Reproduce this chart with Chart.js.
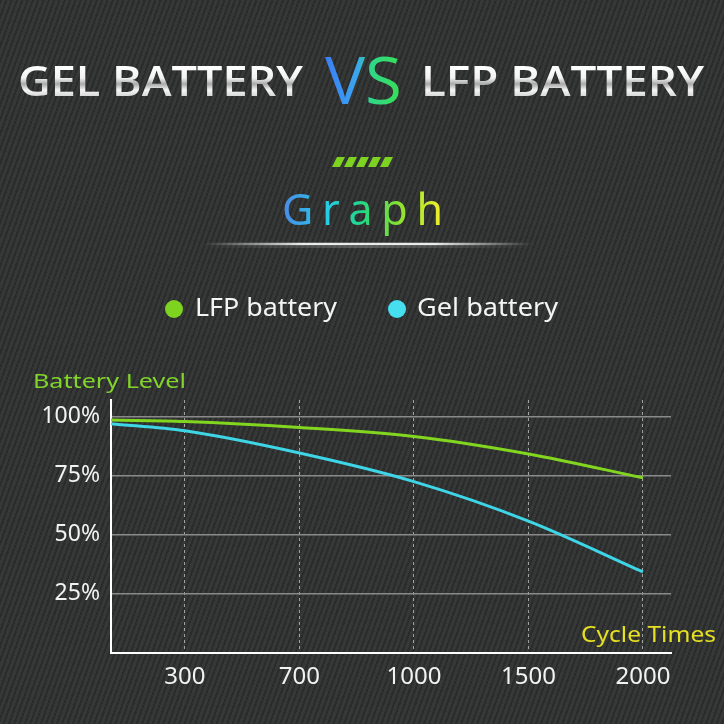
<!DOCTYPE html>
<html><head><meta charset="utf-8">
<script src="https://cdn.jsdelivr.net/npm/chart.js@4"></script>
<style>
html,body{margin:0;padding:0;width:724px;height:724px;overflow:hidden;}
body{background:#303131 repeating-linear-gradient(110deg,#2a2b2b 0px,#2a2b2b 2px,#363737 2px,#363737 5px);}
canvas{display:block}
</style></head><body>
<canvas id="c" width="724" height="724"></canvas>
<script>
// ---- data ----
const categories = ['300', '700', '1000', '1500', '2000'];
const seriesNames = ['LFP battery', 'Gel battery'];
// first value of each series = value at the origin of the x axis
const lfpValues = [98.5, 97.9, 95.4, 91.6, 84.2, 74.1];
const gelValues = [97.0, 94.0, 84.6, 72.5, 55.8, 34.3];
const yTicks = [25, 50, 75, 100];
const titleLeft = 'GEL BATTERY', titleVs = 'VS', titleRight = 'LFP BATTERY', subTitle = 'Graph';
const yTitle = 'Battery Level', xTitle = 'Cycle Times';
const seriesColors = ['#82d61f', '#3ed6e6'];
const dotColors = ['#7ed321', '#45dff0'];

const X_MIN = -0.646, X_MAX = 4.245;
function toPoints(vals) { return vals.map((v, i) => ({ x: i === 0 ? X_MIN : i - 1, y: v })); }

function fitText(ctx, text, x, y, width, font, fillFn) {
  ctx.save();
  ctx.font = font;
  const w = ctx.measureText(text).width;
  ctx.translate(x, y);
  ctx.scale(width / w, 1);
  ctx.fillStyle = fillFn ? fillFn(ctx, w) : '#fff';
  ctx.textAlign = 'left';
  ctx.textBaseline = 'alphabetic';
  ctx.fillText(text, 0, 0);
  ctx.restore();
}

const deco = {
  id: 'deco',
  afterDraw(chart) {
    const ctx = chart.ctx;
    // main title (metallic)
    const metal = (c) => {
      const g = c.createLinearGradient(0, -30, 0, 0);
      g.addColorStop(0, '#ffffff'); g.addColorStop(0.4, '#f2f2f2');
      g.addColorStop(0.6, '#a9a9a9'); g.addColorStop(0.8, '#f5f5f5'); g.addColorStop(1, '#d8d8d8');
      return g;
    };
    fitText(ctx, titleLeft, 18, 96, 285, '600 41px "Open Sans"', metal);
    fitText(ctx, titleRight, 421, 96, 283, '600 41px "Open Sans"', metal);
    fitText(ctx, titleVs, 325, 104, 77, '500 65px "Open Sans"', (c, w) => {
      const g = c.createLinearGradient(0, 0, w, 0);
      g.addColorStop(0, '#3c7ef4'); g.addColorStop(0.42, '#3aa6ee');
      g.addColorStop(0.58, '#2fd68c'); g.addColorStop(1, '#38e052');
      return g;
    });
    // green stripes
    ctx.save();
    ctx.fillStyle = '#7ed321';
    for (let i = 0; i < 5; i++) {
      const x0 = 332 + i * 12;
      ctx.beginPath();
      ctx.moveTo(x0, 167); ctx.lineTo(x0 + 8, 167); ctx.lineTo(x0 + 13, 157); ctx.lineTo(x0 + 5, 157);
      ctx.closePath(); ctx.fill();
    }
    ctx.restore();
    // "Graph"
    ctx.save();
    ctx.font = '43px "Noto Sans"';
    ctx.textBaseline = 'alphabetic';
    const letters = subTitle.split('');
    const widths = letters.map(l => ctx.measureText(l).width);
    const total = widths.reduce((a, b) => a + b, 0);
    const gap = (161 - total) / (letters.length - 1);
    const gg = ctx.createLinearGradient(282, 0, 443, 0);
    gg.addColorStop(0, '#4a8ae8'); gg.addColorStop(0.28, '#26cde6'); gg.addColorStop(0.5, '#22d884');
    gg.addColorStop(0.72, '#86e030'); gg.addColorStop(1, '#f4f02c');
    ctx.fillStyle = gg;
    let x = 282;
    letters.forEach((l, i) => { ctx.fillText(l, x, 225); x += widths[i] + gap; });
    ctx.restore();
    // underline
    ctx.save();
    const ug = ctx.createLinearGradient(203, 0, 533, 0);
    ug.addColorStop(0, 'rgba(255,255,255,0)'); ug.addColorStop(0.3, 'rgba(255,255,255,0.9)');
    ug.addColorStop(0.7, 'rgba(255,255,255,0.9)'); ug.addColorStop(1, 'rgba(255,255,255,0)');
    ctx.strokeStyle = ug; ctx.lineWidth = 2.5;
    ctx.beginPath(); ctx.moveTo(203, 244); ctx.lineTo(533, 244); ctx.stroke();
    const ug2 = ctx.createLinearGradient(203, 0, 533, 0);
    ug2.addColorStop(0, 'rgba(150,150,150,0)'); ug2.addColorStop(0.5, 'rgba(150,150,150,0.6)'); ug2.addColorStop(1, 'rgba(150,150,150,0)');
    ctx.strokeStyle = ug2; ctx.lineWidth = 1.5;
    ctx.beginPath(); ctx.moveTo(203, 247); ctx.lineTo(533, 247); ctx.stroke();
    ctx.restore();
    // legend
    const legend = [{ cx: 174, tx: 195, tw: 142 }, { cx: 397, tx: 417, tw: 141 }];
    legend.forEach((L, i) => {
      ctx.save();
      ctx.fillStyle = dotColors[i];
      ctx.beginPath(); ctx.arc(L.cx, 309, 9, 0, Math.PI * 2); ctx.fill();
      ctx.restore();
      fitText(ctx, seriesNames[i], L.tx, 316, L.tw, '25px "Noto Sans"', () => '#f4f4f4');
    });
    // axis titles
    fitText(ctx, yTitle, 33, 388, 153, '20px "Noto Sans"', () => '#80d42a');
    fitText(ctx, xTitle, 581, 642, 135, '22px "Noto Sans"', () => '#e6e022');
  }
};

new Chart(document.getElementById('c').getContext('2d'), {
  type: 'line',
  data: {
    datasets: [
      { label: seriesNames[0], data: toPoints(lfpValues), borderColor: seriesColors[0], borderWidth: 3, pointRadius: 0, cubicInterpolationMode: 'monotone', fill: false },
      { label: seriesNames[1], data: toPoints(gelValues), borderColor: seriesColors[1], borderWidth: 3, pointRadius: 0, cubicInterpolationMode: 'monotone', fill: false }
    ]
  },
  options: {
    responsive: false, animation: false, devicePixelRatio: 1,
    layout: { padding: { left: 0, right: 53, top: 400, bottom: 0 } },
    plugins: { legend: { display: false }, tooltip: { enabled: false }, title: { display: false } },
    scales: {
      x: {
        type: 'linear', min: X_MIN, max: X_MAX,
        afterBuildTicks: s => { s.ticks = categories.map((c, i) => ({ value: i })); },
        afterFit: s => { s.height = 71; },
        ticks: { color: '#f2f2f2', font: { family: 'Noto Sans', size: 24 }, padding: 10, maxRotation: 0, autoSkip: false, callback: v => categories[v] },
        grid: { color: 'rgba(190,190,190,0.8)', lineWidth: 1, drawTicks: false },
        border: { display: true, color: '#ffffff', width: 2, dash: [3, 3] }
      },
      y: {
        min: 0, max: 107,
        afterBuildTicks: s => { s.ticks = yTicks.map(v => ({ value: v })); },
        afterFit: s => { s.width = 111; },
        ticks: { color: '#f2f2f2', font: { family: 'Noto Sans', size: 23 }, padding: 11, callback: v => v + '%' },
        grid: { color: '#8a8a8a', lineWidth: 1.5, drawTicks: false },
        border: { display: true, color: '#ffffff', width: 2 }
      }
    }
  },
  plugins: [deco]
});
</script>
</body></html>
